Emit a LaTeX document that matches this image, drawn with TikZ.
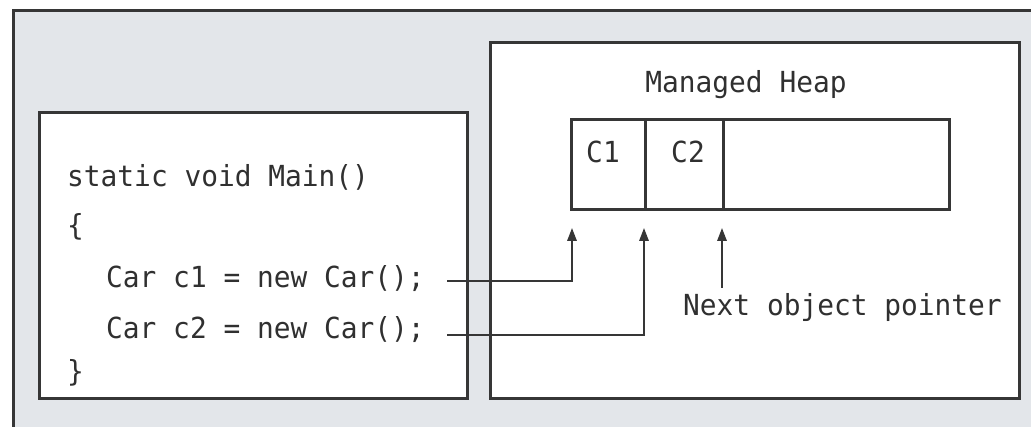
\documentclass[tikz,border=0pt]{standalone}
\usepackage{fontspec}
\newfontfamily\codefont[FakeStretch=0.96]{DejaVu Sans Mono}
\usetikzlibrary{arrows.meta}
\definecolor{panelgrey}{HTML}{E3E6EA}
\definecolor{ink}{HTML}{363636}
\definecolor{txt}{HTML}{303030}
\tikzset{
  box/.style={draw=ink, line width=3pt, fill=white, inner sep=0pt, anchor=north west},
  cell/.style={draw=ink, line width=2.8pt, fill=white, inner sep=0pt, anchor=north west, minimum height=90pt},
  code/.style={font=\codefont\fontsize{29}{34}\selectfont, text=txt, inner sep=0pt, anchor=base west},
  conn/.style={draw=ink, line width=2.6pt},
  ptr/.style={conn, -{Triangle[length=13pt,width=9pt]}},
}
\begin{document}
\begin{tikzpicture}[x=1pt,y=-1pt]
\useasboundingbox (0,0) rectangle (1031,427);
% outer panel
\draw[draw=ink, line width=3pt, fill=panelgrey] (13,11) rectangle (1045,445);
% left code box
\node[box, minimum width=428pt, minimum height=286pt] (codebox) at (38,111) {};
% right heap box
\node[box, minimum width=529pt, minimum height=356pt] (heapbox) at (489,41) {};
% code lines
\node[code] (l1) at (67,187) {static void Main()};
\node[code] (l2) at (67,236) {\{};
\node[code] (l3) at (106,288) {Car c1 = new Car();};
\node[code] (l4) at (106,339) {Car c2 = new Car();};
\node[code] (l5) at (67,382) {\}};
% heap title
\node[code, anchor=base] (title) at (746,93) {Managed Heap};
% heap cells
\node[cell, minimum width=74pt] (c1cell) at (570,118) {};
\node[cell, minimum width=78pt] (c2cell) at (644,118) {};
\node[cell, minimum width=226pt] (freecell) at (722,118) {};
\node[code, anchor=base] (c1lbl) at (603,163) {C1};
\node[code, anchor=base] (c2lbl) at (688,163) {C2};
% next object pointer label
\node[code] (nextlbl) at (683,316) {Next object pointer};
% connector start points
\coordinate (s1) at (447,281);
\coordinate (s2) at (447,335);
\coordinate (s3) at (722,288);
% arrows
\draw[ptr] (s1) -| ([xshift=2pt,yshift=-17pt]c1cell.south west);
\draw[ptr] (s2) -| ([yshift=-17pt]c2cell.south west);
\draw[ptr] (s3) -- ([yshift=-17pt]freecell.south west);
\end{tikzpicture}
\end{document}
